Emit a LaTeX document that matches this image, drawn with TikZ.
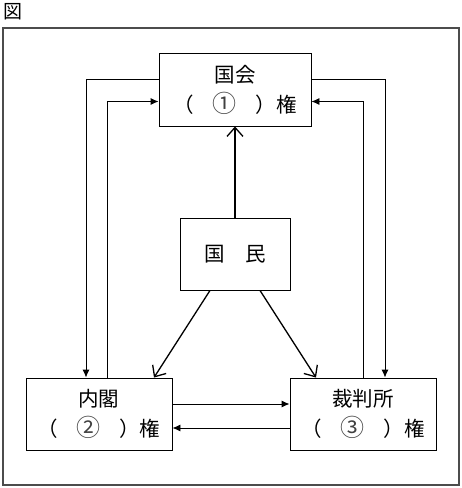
\documentclass[tikz,border=0pt]{standalone}
\usepackage{fontspec}
\setmainfont{Noto Sans CJK JP}
\usetikzlibrary{arrows.meta}

\tikzset{
  box/.style={draw,line width=0.9pt,align=center,font=\fontsize{20.5}{30}\selectfont},
  tip/.style={line width=0.9pt,-{Latex[length=8pt,width=7pt]}},
  barb/.style={line width=1.3pt,-{Straight Barb[length=9pt,width=16pt,line width=1.3pt]}}
}
\newcommand{\maru}[1]{\makebox[1em]{\textcolor{black!75}{\fontsize{24}{30}\selectfont #1}}}

\begin{document}
\begin{tikzpicture}[x=1pt,y=-1pt]
\useasboundingbox (0,0) rectangle (462,488);
\node[font=\fontsize{19}{19}\selectfont] at (13,12) (zu) {図};
\draw[line width=1.4pt,black!70] (3,28) rectangle (459,485);

\node[box,minimum width=152pt,minimum height=73pt] at (235,89.5) (kokkai)
  {国会\\（　\maru{①}　）権};
\node[box,minimum width=110pt,minimum height=72pt] at (235,254) (kokumin)
  {国　民};
\node[box,minimum width=146pt,minimum height=72pt] at (99,414) (naikaku)
  {内閣\\（　\maru{②}　）権};
\node[box,minimum width=146pt,minimum height=72pt] at (363,414) (saiban)
  {裁判所\\（　\maru{③}　）権};

\draw[tip] ([yshift=10pt]kokkai.west) -| ([xshift=-13pt]naikaku.north);
\draw[tip] ([xshift=8pt]naikaku.north) |- ([yshift=-12pt]kokkai.west);
\draw[tip] ([yshift=10pt]kokkai.east) -| ([xshift=22pt]saiban.north);
\draw[tip] (saiban.north) |- ([yshift=-12pt]kokkai.east);
\draw[tip] ([yshift=10pt]naikaku.east) -- ([yshift=10pt]saiban.west);
\draw[tip] ([yshift=-14pt]saiban.west) -- ([yshift=-14pt]naikaku.east);

\draw[barb] (kokumin) -- (kokkai);
\draw[barb] ([xshift=-25pt]kokumin.south) -- ([xshift=55pt]naikaku.north);
\draw[barb] ([xshift=25pt]kokumin.south) -- ([xshift=-47pt]saiban.north);
\end{tikzpicture}
\end{document}
